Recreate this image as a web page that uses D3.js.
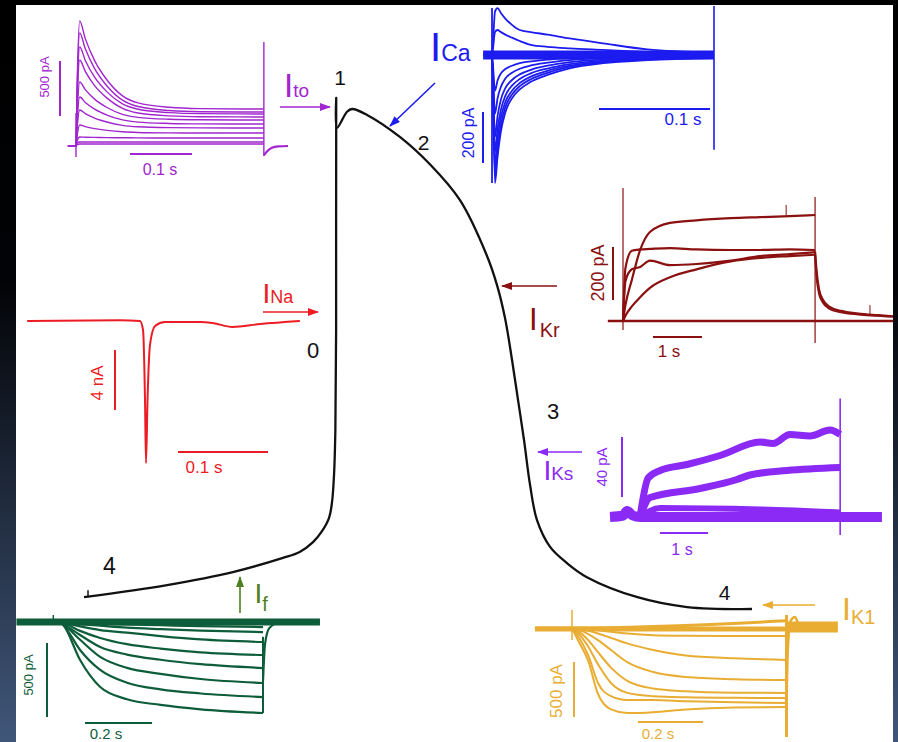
<!DOCTYPE html>
<html><head><meta charset="utf-8">
<script src="https://cdn.jsdelivr.net/npm/d3@7"></script>
<style>html,body{margin:0;padding:0;background:#000;}svg{display:block;}text{font-family:"Liberation Sans",Arial,sans-serif;}</style>
</head><body><svg id="c" width="898" height="742"></svg>
<script>
// ================= DATA =================
// Action potential (time ms, membrane potential mV)
const apTimeMs    = [0, 87, 156, 208.5, 226, 240, 249.4, 256.8, 259.9, 262, 263.4, 264.2, 264.3, 265.1, 275.6, 280.9, 296.6, 331, 363, 394, 422, 432.8, 441.2, 448.5, 454.8, 461.1, 467.4, 474.7, 488.4, 506, 527, 580, 632, 700];
const apVoltageMv = [-87, -83.9, -80.6, -77, -75.5, -73, -70.2, -66.8, -62.8, -55.9, -44.5, -19, 40, 32.4, 36.5, 37.2, 35.7, 30.1, 23, 14, 0, -7.6, -16, -26.6, -36.8, -47, -58.4, -67.4, -74.2, -78.3, -81.9, -87, -89.5, -90];
const apPhaseLabels = ["0", "1", "2", "3", "4", "4"];

// I_to (ms, pA)
const itoTimeMs = [-13, 0, 2, 6, 15, 30, 50, 75, 100, 150, 200, 303];
const itoTraces = [
  [0, 0, 600, 1136, 976, 776, 600, 456, 392, 352, 340, 336],
  [0, 0, 540, 1027, 883, 704, 546, 417, 359, 323, 312, 309],
  [0, 0, 470, 900, 778, 626, 492, 382, 334, 303, 294, 291],
  [0, 0, 410, 782, 678, 549, 435, 342, 300, 274, 266, 264],
  [0, 0, 300, 582, 513, 426, 350, 288, 260, 243, 238, 236],
  [0, 0, 230, 445, 396, 335, 281, 237, 217, 205, 201, 200],
  [0, 0, 170, 327, 294, 254, 218, 188, 175, 167, 165, 164],
  [0, 0, 100, 191, 176, 158, 142, 129, 123, 119, 118, 118],
  [0, 0, 50, 82, 80, 78, 76, 75, 74, 73, 73, 73],
  [0, 0, 25, 36, 36, 36, 36, 36, 36, 36, 36, 36],
  [0, 0, 12, 18, 18, 18, 18, 18, 18, 18, 18, 18]
];
const itoTailTimeMs = [303, 308, 316, 326, 342];
const itoTailPa     = [-85, -50, -15, -3, 0];

// I_Ca (ms, pA)
const icaTimeMs = [-8, 0, 2.7, 5, 8, 12, 18, 25, 35, 50, 70, 100, 140, 200];
const icaInward = [
  [0, 0, -502, -400, -300, -225, -170, -135, -105, -78, -52, -32, -20, -12],
  [0, 0, -470, -370, -275, -205, -155, -122, -95, -70, -47, -29, -18, -10],
  [0, 0, -430, -330, -245, -185, -140, -110, -85, -62, -42, -26, -16, -9],
  [0, 0, -380, -290, -215, -160, -120, -94, -72, -53, -36, -22, -14, -8],
  [0, 0, -320, -240, -175, -130, -98, -76, -58, -42, -28, -17, -10, -6],
  [0, 0, -230, -170, -125, -92, -70, -54, -41, -30, -20, -12, -7, -4],
  [0, 0, -140, -100, -72, -55, -42, -32, -25, -18, -12, -7, -4, -2]
];
const icaOutward = [
  [0, 0, 170, 184, 165, 143, 118, 98, 90, 80, 65, 46, 22, 10],
  [0, 0, 90, 98, 90, 80, 68, 55, 40, 32, 26, 20, 12, 6]
];

// I_Na (ms, nA)
const inaTimeMs = [-132, -29, -6.7, -3.3, -1.1, 0, 1.7, 4.4, 10, 21, 60, 74, 96, 127, 171];
const inaNa     = [0, 0.05, 0, -0.6, -5.27, -9.47, -5.27, -1.6, -0.33, -0.07, -0.07, -0.13, -0.4, -0.2, 0];

// I_Kr (s, pA)
const ikrTimeS = [0, 0.05, 0.18, 0.35, 0.55, 0.96, 1.5, 2.2, 2.8, 3.4, 3.92];
const ikrTraces = [
  [0, 60, 155, 268, 336, 370, 380, 388, 392, 396, 400],
  [0, 200, 265, 270, 272, 275, 270, 268, 268, 270, 268],
  [0, 150, 195, 204, 228, 211, 215, 228, 245, 252, 260],
  [0, 20, 55, 90, 125, 165, 195, 225, 238, 245, 250]
];
const ikrTailTimeS = [3.92, 3.95, 4.0, 4.08, 4.2, 4.45, 4.8, 5.2, 5.51];
const ikrTails = [
  [262, 190, 120, 80, 55, 38, 28, 22, 18],
  [250, 170, 105, 70, 48, 33, 25, 20, 16]
];

// I_Ks (s, pA)
const iksTop  = [[0,0],[0.17,26],[0.42,31],[0.98,35],[1.67,41],[2.5,50],[2.77,49],[3.125,55],[3.54,54],[3.96,58],[4.17,55]];
const iksMid  = [[0,0],[0.21,13],[1.25,19],[2.02,25],[2.29,28],[3.06,31],[4.17,33]];
const iksLow  = [[0,0],[0.42,6],[2.5,5],[4.17,3]];
const iksBase = [[-0.625,0],[-0.35,1],[-0.27,4],[-0.15,1],[0,0],[5.04,0]];

// I_f (s, pA)
const ifTimeS = [0, 0.01, 0.06, 0.12, 0.2, 0.3, 0.42, 0.606];
const ifTraces = [
  [0, -20, -257, -439, -522, -560, -590, -615],
  [0, -20, -189, -324, -410, -455, -483, -507],
  [0, -15, -120, -236, -310, -350, -385, -412],
  [0, -14, -88, -169, -220, -255, -285, -311],
  [0, -7, -60, -108, -150, -180, -205, -223],
  [0, -5, -30, -55, -72, -95, -118, -135],
  [0, -3, -15, -25, -38, -48, -58, -68],
  [0, -2, -8, -12, -17, -22, -28, -34]
];
const ifTailTimeS = [0.606, 0.612, 0.625, 0.655, 0.776];
const ifTailPa    = [-400, -150, -40, -5, 0];

// I_K1 (s, pA)
const ik1TimeS = [0, 0.02, 0.05, 0.08, 0.12, 0.17, 0.25, 0.35, 0.5, 0.66];
const ik1Traces = [
  [0, -120, -300, -600, -740, -773, -765, -740, -722, -718],
  [0, -80, -250, -500, -620, -655, -655, -665, -675, -682],
  [0, -50, -170, -330, -500, -590, -620, -630, -635, -636],
  [0, -30, -110, -220, -360, -480, -550, -575, -588, -591],
  [0, -15, -55, -110, -200, -310, -400, -445, -465, -473],
  [0, -8, -25, -50, -90, -140, -200, -250, -275, -291],
  [0, -3, -10, -20, -35, -50, -65, -70, -72, -73]
];
const ik1TailTimeS = [0.66, 0.664, 0.672, 0.686, 0.7, 0.818];
const ik1TailPa    = [-700, -200, 60, 100, 20, 0];
const ik1BaseTimeS = [-0.114, 0, 0.66];
const ik1UpperPa   = [0, 0, 65];
const ik1LowerPa   = [-10, -10, -10];

// scale-bar values
const scaleBars = { ito: [100, 500], ica: [100, 200], ina: [100, 4], ikr: [1, 200], iks: [1, 40], iff: [0.2, 500], ik1: [0.2, 500] };

// ================= DRAWING =================
const W = 898, H = 742;
const svg = d3.select('#c');
const defs = svg.append('defs');
const grad = defs.append('linearGradient').attr('id', 'bg').attr('x1', 0).attr('y1', 0).attr('x2', 0).attr('y2', 1);
grad.append('stop').attr('offset', '0%').attr('stop-color', '#000');
grad.append('stop').attr('offset', '38%').attr('stop-color', '#020306');
grad.append('stop').attr('offset', '100%').attr('stop-color', '#405679');
svg.append('rect').attr('width', W).attr('height', H).attr('fill', 'url(#bg)');
svg.append('rect').attr('x', 16).attr('y', 5).attr('width', 877).attr('height', H - 5).attr('fill', '#fff');

const C = { ito: '#a126cf', ica: '#1c1cf0', ikr: '#8b1010', ina: '#ec1c24', iks: '#8b2af5', iff: '#0e5d3a', ifLab: '#4f7f22', ik1: '#e8ad32' };

function marker(id, color) {
  defs.append('marker').attr('id', id).attr('viewBox', '0 0 11 8').attr('refX', 10).attr('refY', 4)
    .attr('markerWidth', 11).attr('markerHeight', 8).attr('markerUnits', 'userSpaceOnUse').attr('orient', 'auto')
    .append('path').attr('d', 'M0,0 L11,4 L0,8 Z').attr('fill', color);
}
Object.keys(C).forEach(k => marker('m_' + k, C[k]));

function series(g, xs, ys, t, v, color, w, curve) {
  const line = d3.line().x(d => xs(d[0])).y(d => ys(d[1])).curve(curve || d3.curveMonotoneX);
  g.append('path').attr('d', line(t.map((tt, i) => [tt, v[i]]))).attr('fill', 'none')
    .attr('stroke', color).attr('stroke-width', w).attr('stroke-linejoin', 'round').attr('stroke-linecap', 'butt');
}
function pairs(g, xs, ys, p, color, w) {
  series(g, xs, ys, p.map(d => d[0]), p.map(d => d[1]), color, w);
}
function vline(g, xs, ys, t, a, b, color, w) {
  g.append('line').attr('x1', xs(t)).attr('x2', xs(t)).attr('y1', ys(a)).attr('y2', ys(b))
    .attr('stroke', color).attr('stroke-width', w || 1.3);
}
function bars(g, xs, ys, vals, color, hx, hy, vx, vy) {
  const hl = Math.abs(xs(vals[0]) - xs(0));
  const vl = Math.abs(ys(vals[1]) - ys(0));
  g.append('line').attr('x1', hx).attr('x2', hx + hl).attr('y1', hy).attr('y2', hy).attr('stroke', color).attr('stroke-width', 2);
  g.append('line').attr('x1', vx).attr('x2', vx).attr('y1', vy).attr('y2', vy - vl).attr('stroke', color).attr('stroke-width', 2);
}
function txt(x, y, s, color, size, rot, anchor) {
  const t = svg.append('text').attr('x', x).attr('y', y).attr('fill', color).attr('font-size', size)
    .attr('text-anchor', anchor || 'middle').text(s);
  if (rot) t.attr('transform', `rotate(-90,${x},${y})`).attr('dominant-baseline', 'central');
  return t;
}
function currentLabel(x, y, sub, color, big, small, dx, dy) {
  const t = svg.append('text').attr('x', x).attr('y', y).attr('fill', color);
  t.append('tspan').attr('font-size', big).text('I');
  t.append('tspan').attr('font-size', small).attr('dx', dx).attr('dy', dy).text(sub);
}
function arrow(x1, y1, x2, y2, key) {
  svg.append('line').attr('x1', x1).attr('y1', y1).attr('x2', x2).attr('y2', y2)
    .attr('stroke', C[key]).attr('stroke-width', 1.6).attr('marker-end', `url(#m_${key})`);
}

// ---- Action potential ----
{
  const g = svg.append('g');
  const xs = d3.scaleLinear().domain([0, 700]).range([84, 752]);
  const ys = d3.scaleLinear().domain([-90, 40]).range([609, 98]);
  series(g, xs, ys, apTimeMs, apVoltageMv, '#111', 2.3, d3.curveCatmullRom.alpha(0.5));
  g.append('line').attr('x1', xs(4.2)).attr('x2', xs(4.2)).attr('y1', ys(-87)).attr('y2', ys(-85.2)).attr('stroke', '#111').attr('stroke-width', 1.5);
  const lp = [[313, 358, 22], [340, 85, 21], [423.5, 150, 21], [553, 419, 22], [109.5, 574, 23], [724.5, 600, 21]];
  apPhaseLabels.forEach((s, i) => txt(lp[i][0], lp[i][1], s, '#111', lp[i][2]));
}

// ---- I_to ----
{
  const g = svg.append('g');
  const xs = d3.scaleLinear().domain([0, 100]).range([76, 138]);
  const ys = d3.scaleLinear().domain([0, 500]).range([146, 91]);
  itoTraces.forEach(v => series(g, xs, ys, itoTimeMs, v, C.ito, 1.4));
  series(g, xs, ys, itoTailTimeMs, itoTailPa, C.ito, 2.2);
  vline(g, xs, ys, 0, -100, 300, C.ito, 1.4);
  vline(g, xs, ys, 303, -90, 945, C.ito, 1.4);
  bars(g, xs, ys, scaleBars.ito, C.ito, 130, 154, 60, 116);
  txt(44, 77, '500 pA', C.ito, 13, true);
  txt(160, 175, '0.1 s', C.ito, 16);
  currentLabel(284, 97, 'to', C.ito, 33, 19, 0, 0);
  arrow(280, 107, 330, 107, 'ito');
}

// ---- I_Ca ----
{
  const g = svg.append('g');
  const xs = d3.scaleLinear().domain([0, 100]).range([492, 603]);
  const ys = d3.scaleLinear().domain([0, 200]).range([55, 4]);
  series(g, xs, ys, [-8, 200], [0, 0], C.ica, 9);
  icaInward.forEach(v => series(g, xs, ys, icaTimeMs, v, C.ica, 1.8));
  icaOutward.forEach(v => series(g, xs, ys, icaTimeMs, v, C.ica, 1.8));
  vline(g, xs, ys, 0, -502, 184, C.ica, 1.8);
  vline(g, xs, ys, 200, -372, 192, C.ica, 1.6);
  bars(g, xs, ys, scaleBars.ica, C.ica, 599, 109, 483, 163);
  txt(468, 133, '200 pA', C.ica, 16, true);
  txt(683, 125, '0.1 s', C.ica, 17);
  currentLabel(430, 61, 'Ca', C.ica, 40, 23, 0, 0);
  arrow(435, 83, 390, 126, 'ica');
}

// ---- I_Na ----
{
  const g = svg.append('g');
  const xs = d3.scaleLinear().domain([0, 100]).range([146, 236]);
  const ys = d3.scaleLinear().domain([0, -4]).range([321, 381]);
  series(g, xs, ys, inaTimeMs, inaNa, C.ina, 2);
  bars(g, xs, ys, scaleBars.ina, C.ina, 178, 452, 115, 410);
  txt(97, 383, '4 nA', C.ina, 17, true);
  txt(204, 473, '0.1 s', C.ina, 17);
  currentLabel(262.4, 303, 'Na', C.ina, 28, 18, 0, 0);
  arrow(263, 312, 318, 312, 'ina');
}

// ---- I_Kr ----
{
  const g = svg.append('g');
  const xs = d3.scaleLinear().domain([0, 1]).range([623, 672]);
  const ys = d3.scaleLinear().domain([0, 200]).range([321, 268]);
  series(g, xs, ys, [-0.31, 5.51], [0, 0], C.ikr, 2.4);
  ikrTraces.forEach(v => series(g, xs, ys, ikrTimeS, v, C.ikr, 2.2));
  ikrTails.forEach(v => series(g, xs, ys, ikrTailTimeS, v, C.ikr, 2.2));
  vline(g, xs, ys, 0, -34, 502, C.ikr, 1.2);
  vline(g, xs, ys, 3.92, -83, 468, C.ikr, 1.2);
  vline(g, xs, ys, 3.33, 400, 438, C.ikr, 1);
  vline(g, xs, ys, 5.04, 23, 60, C.ikr, 1);
  bars(g, xs, ys, scaleBars.ikr, C.ikr, 653, 337, 613, 300);
  txt(598, 273, '200 pA', C.ikr, 18, true);
  txt(669, 357, '1 s', C.ikr, 17);
  currentLabel(529, 330, 'Kr', C.ikr, 31, 20, 2, 7);
  arrow(557, 286, 502, 286, 'ikr');
}

// ---- I_Ks ----
{
  const g = svg.append('g');
  const xs = d3.scaleLinear().domain([0, 1]).range([640, 688]);
  const ys = d3.scaleLinear().domain([0, 40]).range([517, 457]);
  pairs(g, xs, ys, iksBase, C.iks, 10);
  pairs(g, xs, ys, iksLow, C.iks, 6);
  pairs(g, xs, ys, iksMid, C.iks, 7);
  pairs(g, xs, ys, iksTop, C.iks, 7);
  vline(g, xs, ys, 4.17, -12, 79, C.iks, 1.6);
  bars(g, xs, ys, scaleBars.iks, C.iks, 660, 533, 622, 497);
  txt(601, 467, '40 pA', C.iks, 15, true);
  txt(682, 555, '1 s', C.iks, 16);
  currentLabel(543.4, 480, 'Ks', C.iks, 28, 19, 0, 0);
  arrow(582, 452, 538, 452, 'iks');
}

// ---- I_f ----
{
  const g = svg.append('g');
  const xs = d3.scaleLinear().domain([0, 0.2]).range([60, 127]);
  const ys = d3.scaleLinear().domain([0, -500]).range([622, 696]);
  series(g, xs, ys, [-0.13, 0.776], [0, 0], C.iff, 7);
  ifTraces.forEach(v => series(g, xs, ys, ifTimeS, v, C.iff, 2.2));
  series(g, xs, ys, ifTailTimeS, ifTailPa, C.iff, 2.2);
  vline(g, xs, ys, 0.606, -615, -100, C.iff, 2);
  vline(g, xs, ys, -0.02, -20, 47, C.iff, 1.5);
  bars(g, xs, ys, scaleBars.iff, C.iff, 85, 723, 47, 717);
  txt(28, 675, '500 pA', C.iff, 13, true);
  txt(106, 739, '0.2 s', C.iff, 15);
  currentLabel(254.4, 603, 'f', C.ifLab, 28, 20, 0, 8);
  arrow(240, 613, 240, 577, 'ifLab');
}

// ---- I_K1 ----
{
  const g = svg.append('g');
  const xs = d3.scaleLinear().domain([0, 0.2]).range([572, 637]);
  const ys = d3.scaleLinear().domain([0, -500]).range([628, 683]);
  series(g, xs, ys, ik1BaseTimeS, ik1LowerPa, C.ik1, 5);
  series(g, xs, ys, ik1BaseTimeS, ik1UpperPa, C.ik1, 3);
  series(g, xs, ys, [0.66, 0.818], [10, 10], C.ik1, 11);
  ik1Traces.forEach(v => series(g, xs, ys, ik1TimeS, v, C.ik1, 2));
  series(g, xs, ys, ik1TailTimeS, ik1TailPa, C.ik1, 2.5);
  vline(g, xs, ys, 0, -109, 164, C.ik1, 1.5);
  vline(g, xs, ys, 0.66, -991, 118, C.ik1, 3);
  bars(g, xs, ys, scaleBars.ik1, C.ik1, 638, 722, 574, 717);
  txt(556, 691, '500 pA', C.ik1, 17, true);
  txt(658, 739, '0.2 s', C.ik1, 15);
  currentLabel(842, 620, 'K1', C.ik1, 32, 20, 0, 4);
  arrow(815, 605, 763, 605, 'ik1');
}
</script></body></html>
